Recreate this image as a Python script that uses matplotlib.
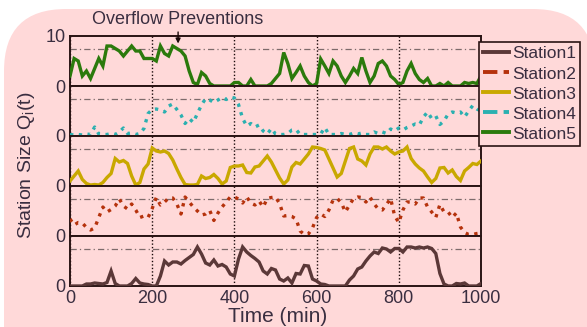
import numpy as np
import matplotlib
matplotlib.use("Agg")
import matplotlib.pyplot as plt
from matplotlib.patches import FancyBboxPatch
from matplotlib.transforms import IdentityTransform
from matplotlib.lines import Line2D

plt.rcParams['font.family'] = ['Liberation Sans', 'DejaVu Sans']
plt.rcParams['mathtext.fontset'] = 'custom'
plt.rcParams['mathtext.rm'] = 'Liberation Sans'
plt.rcParams['mathtext.it'] = 'Liberation Sans'

# ---------------- data ----------------
time_min = np.arange(0, 1001, 10)
station_names = ["Station1", "Station2", "Station3", "Station4", "Station5"]
threshold = 7.5
x_ticks = [0, 200, 400, 600, 800, 1000]

station1 = [0, 0, 0, 0, 0.4, 0.4, 0.6, 0.5, 0.4, 0.7, 3, 0.5, 0, 0, 0, 0.5, 1.5, 0.6, 0.4, 0.3,
            0, 0, 2, 5, 4.2, 4.8, 4.8, 4.4, 5.1, 5.7, 6.3, 7.8, 6.4, 4.6, 4.2, 5.2, 4, 4.3, 3.8, 2.4,
            2, 5.4, 7.8, 6.8, 6.1, 5.5, 4.8, 3, 2.4, 3.5, 3.2, 1.4, 1, 1.6, 0.6, 2.5, 2.4, 4.1, 4, 1.4,
            1, 0.4, 0.3, 0, 0, 0, 0, 0, 1.2, 2, 3.4, 3.8, 5, 6, 6.8, 6.5, 7.6, 7.4, 6.8, 7.5,
            7.5, 6.8, 7.8, 7.8, 7.6, 7.8, 7.6, 7.8, 7.5, 6.5, 2.5, 0.4, 0, 0, 0.5, 0.4, 0.6, 0, 0, 0, 0.5]

station2 = [3.4, 2.2, 2.7, 2.6, 1.7, 1.2, 1.6, 3.7, 5.8, 4.8, 5.3, 6, 7.4, 6, 5.4, 6.4, 5.2, 3.7, 4, 3.7,
            5.5, 7.7, 6.2, 6.8, 7.6, 7.6, 6.4, 4.4, 7.8, 6.8, 5.8, 5, 4.2, 4.4, 5.1, 3.1, 4.6, 5.8, 6.8, 7.8,
            7.8, 7.4, 6.6, 7.8, 6.6, 6.2, 7, 5.8, 7.5, 7.7, 7.8, 6.5, 4, 4.1, 3.9, 3.4, 1, 0.3, 0.4, 1.6,
            3.7, 4.4, 3.9, 5.2, 7.2, 7.5, 6.7, 4.8, 6.2, 7.5, 7.8, 7.7, 6.8, 7.8, 6.4, 5.4, 5.2, 6.3, 7.5, 4,
            2.7, 5.2, 6.8, 6.8, 6.4, 7.6, 7.6, 5.8, 4.8, 3.7, 6.3, 4.8, 4.8, 3.7, 4.6, 1.8, 0.7, 0.3, 0.3, 0.5, 0.6]

station3 = [1, 2, 3, 1.3, 0.5, 0.2, 0.3, 0.2, 0.7, 1.7, 2.5, 5.5, 4.8, 5.1, 4.5, 2, 0.2, 0.7, 3.4, 4.4,
            7.6, 7, 6.8, 7, 6.5, 5.2, 3.4, 1.7, 0.3, 0.2, 0.2, 0.3, 2, 1.5, 1.7, 2.3, 1.5, 0.4, 1, 3.7,
            4, 4, 4.2, 2.7, 2.6, 3.8, 4, 5, 6, 4.8, 3.2, 1.6, 0.4, 1.2, 3.8, 4.7, 4.4, 5.4, 6.4, 7.8,
            7.7, 7.5, 7.2, 5.4, 3.6, 1.8, 2.5, 5, 7.5, 7.8, 5.4, 5, 4.2, 6.4, 7.8, 7.8, 7.4, 7.8, 7, 6.4,
            6.8, 7, 7.8, 5.5, 4.4, 3.6, 3, 1.8, 0.7, 1.5, 3.6, 3.7, 2.6, 3.2, 1.9, 1.1, 3, 3.7, 4.5, 4.3, 5]

station4 = [0.3, 0.2, 0.3, 0.2, 0.4, 0.3, 1.8, 0.4, 0.3, 0.3, 0.5, 0.3, 0.8, 1.6, 0.5, 0.6, 0.3, 0.5, 1.5, 4.5,
            5.3, 5.4, 5.2, 4.8, 6, 6.4, 5.3, 4.2, 2.5, 3.5, 2.7, 4.5, 6.2, 7.5, 7.2, 6.7, 7.2, 7.7, 7.3, 7.8,
            7.6, 6.3, 3.5, 2, 2.5, 1.8, 2.2, 1, 0.4, 1.5, 0.4, 0.3, 0.3, 0.5, 1.2, 1.3, 0.3, 0.3, 0.3, 0.3,
            0.3, 0.4, 1.7, 0.3, 0.3, 0.3, 0.5, 0.3, 0.3, 0.6, 0.4, 0.6, 0.3, 0.3, 0.8, 0.5, 0.8, 0.5, 1.4, 1,
            1.6, 1.2, 1.7, 2, 2.4, 2.2, 3.8, 4.8, 3.5, 4, 2.3, 3, 4.4, 4.8, 4.6, 4.8, 3.8, 5, 6.1, 5.4, 5]

station5 = [2, 5.5, 5, 2, 3, 1.5, 3.5, 5.5, 4, 8, 8, 7.5, 7, 6, 7, 8, 7, 7, 5.5, 5.5,
            5.5, 5, 8, 6.5, 6, 8, 7.5, 7, 6, 3, 0.7, 0.3, 2.7, 2, 0.5, 0, 0, 0, 0, 0,
            0.7, 0.7, 0, 0, 1.3, 0, 0, 0, 0, 0.5, 1.5, 2.5, 6.7, 4.5, 1.5, 2.7, 4, 2, 0.7, 0,
            0.5, 5.4, 4, 2.5, 5, 4, 2, 0.7, 2, 3.5, 2.5, 5.7, 3, 0.7, 2, 4.5, 5, 4, 2, 1.3,
            0.3, 0.7, 3, 4.5, 2.5, 1.3, 0.7, 1.5, 0, 0, 0.5, 0, 0.7, 0, 0, 0, 0.7, 0.5, 0.7, 0.5, 2]

series = [station1, station2, station3, station4, station5]
colors = ['#5b3838', '#b5320c', '#c9a800', '#2bb0b0', '#2b7a0c']
styles = ['-', ':', '-', ':', '-']
legend_styles = ['-', '--', '-', '--', '-']

# ---------------- layout ----------------
W, H = 587, 327
fig = plt.figure(figsize=(W / 100, H / 100), dpi=100)
fig.patch.set_facecolor('white')
pink = '#ffd9d9'
txt = '#3a2e40'
dark = '#2a1414'

bg = FancyBboxPatch((4, -120), 591, 318 + 120, boxstyle="round,pad=0,rounding_size=62",
                    transform=IdentityTransform(), facecolor=pink, edgecolor='none', zorder=-10)
fig.patches.append(bg)

left_px, right_px, top_px, bot_px = 70, 481, 36, 286
ph = (bot_px - top_px) / 5
axes = []
order = [4, 3, 2, 1, 0]  # top to bottom: Station5 ... Station1
for k, si in enumerate(order):
    b = 1 - (top_px + ph * (k + 1)) / H
    ax = fig.add_axes([left_px / W, b, (right_px - left_px) / W, ph / H])
    ax.set_facecolor(pink)
    ax.set_xlim(0, 1000)
    ax.set_ylim(0, 10)
    ax.plot(time_min, series[si], color=colors[si], linestyle=styles[si], lw=2.4,
            solid_joinstyle='miter', clip_on=True, zorder=3)
    ax.axhline(threshold, color='#7d6b6b', lw=0.9, linestyle=(0, (5, 2.5, 1, 2.5)), zorder=2)
    ax.set_xticks(x_ticks)
    ax.xaxis.grid(True, linestyle=(0, (1, 1.5)), color='#1a0a0a', lw=1.0)
    ax.set_axisbelow(True)
    for s in ax.spines.values():
        s.set_color(dark)
        s.set_linewidth(1.4)
    if k == 0:
        ax.set_yticks([0, 10])
    else:
        ax.set_yticks([0])
    ax.tick_params(axis='both', length=0, labelsize=13, labelcolor=txt, pad=3)
    if k < 4:
        ax.tick_params(axis='x', labelbottom=False)
    axes.append(ax)

top_ax = axes[0]
top_ax.text(263, 13.2, 'Overflow Preventions', ha='center', va='center', fontsize=13,
            color=txt, clip_on=False)
top_ax.annotate('', xy=(263, 8.5), xytext=(263, 10.8), annotation_clip=False,
                arrowprops=dict(arrowstyle='-|>', color='#1a0a0a', lw=1.0, mutation_scale=7,
                                shrinkA=0, shrinkB=0))

fig.text(27 / W, 1 - 165 / H, 'Station Size Q$_\\mathregular{i}$(t)', rotation=90,
         ha='center', va='center', fontsize=14, color=txt)
fig.text(278 / W, 1 - 317 / H, 'Time (min)', ha='center', va='center', fontsize=15, color=txt)

handles = [Line2D([0], [0], color=colors[i], linestyle=legend_styles[i], lw=2.8) for i in range(5)]
leg = fig.legend(handles, station_names, loc='upper left',
                 bbox_to_anchor=(479 / W, 1 - 42 / H), fontsize=12.5, frameon=True,
                 fancybox=False, handlelength=1.5, handletextpad=0.15, labelspacing=0.28,
                 borderpad=0.25, borderaxespad=0, labelcolor=txt)
leg.get_frame().set_facecolor(pink)
leg.get_frame().set_edgecolor(dark)
leg.get_frame().set_linewidth(1.2)
leg.get_frame().set_alpha(1)

fig.savefig('out.png', dpi=100, facecolor='white')
